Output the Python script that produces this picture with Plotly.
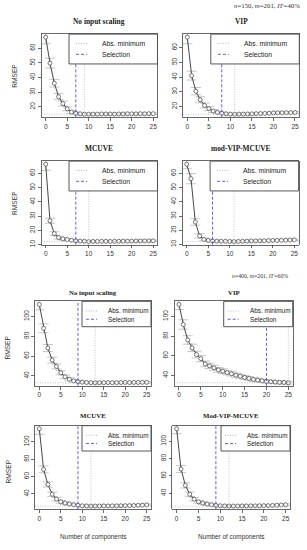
import plotly.graph_objects as go

W, H = 307, 550

# ---------------- data ----------------
components = list(range(26))

titles = ["No input scaling", "VIP", "MCUVE", "mod-VIP-MCUVE",
          "No input scaling", "VIP", "MCUVE", "Mod-VIP-MCUVE"]
subtitle_top = "<i>n</i>=150, <i>m</i>=201, <i>Π'</i>=40%"
subtitle_bottom = "<i>n</i>=400, <i>m</i>=201, <i>Π'</i>=60%"
legend_labels = ["Abs. minimum", "Selection"]
x_label = "Number of components"
y_label = "RMSEP"

rmsep_p1 = [67.5, 49.8, 36.1, 26.9, 22.2, 18.6, 16.4, 15.6, 15.2, 14.9, 15.0, 15.0, 15.0,
            15.1, 15.1, 15.1, 15.0, 15.1, 15.1, 15.2, 15.2, 15.2, 15.3, 15.2, 15.3, 15.3]
err_p1 = [4.5, 3.4, 2.6, 2.1, 1.7, 1.3, 1.0, 0.8, 0.7, 0.6, 0.6, 0.6, 0.6,
          0.6, 0.6, 0.6, 0.6, 0.6, 0.6, 0.6, 0.6, 0.6, 0.6, 0.6, 0.6, 0.6]

rmsep_p2 = [67.1, 41.0, 30.4, 24.6, 20.7, 18.5, 16.9, 16.0, 15.4, 15.0, 14.8, 14.7, 14.8,
            14.8, 14.9, 15.0, 15.1, 15.2, 15.3, 15.4, 15.6, 15.7, 15.7, 15.8, 15.8, 15.9]
err_p2 = [4.5, 3.0, 2.5, 2.0, 1.6, 1.3, 1.0, 0.8, 0.7, 0.6, 0.6, 0.6, 0.6,
          0.6, 0.6, 0.6, 0.6, 0.6, 0.6, 0.6, 0.6, 0.6, 0.6, 0.6, 0.6, 0.6]

rmsep_p3 = [66.5, 26.7, 17.7, 14.9, 14.0, 13.5, 13.0, 12.6, 12.4, 12.3, 12.1, 12.2, 12.2,
            12.3, 12.3, 12.2, 12.3, 12.3, 12.4, 12.4, 12.4, 12.5, 12.5, 12.5, 12.6, 12.6]
err_p3 = [4.3, 1.8, 1.3, 1.0, 0.8, 0.7, 0.6, 0.5, 0.5, 0.5, 0.5, 0.5, 0.5,
          0.5, 0.5, 0.5, 0.5, 0.5, 0.5, 0.5, 0.5, 0.5, 0.5, 0.5, 0.5, 0.5]

rmsep_p4 = [66.5, 56.3, 25.8, 16.0, 13.5, 12.8, 12.4, 12.3, 12.2, 12.2, 12.1, 12.0, 12.1,
            12.2, 12.3, 12.4, 12.4, 12.5, 12.6, 12.7, 12.8, 12.8, 12.9, 13.0, 13.1, 13.2]
err_p4 = [3.2, 3.6, 2.3, 1.5, 1.0, 0.8, 0.6, 0.5, 0.5, 0.5, 0.5, 0.5, 0.5,
          0.5, 0.5, 0.5, 0.5, 0.5, 0.5, 0.5, 0.5, 0.5, 0.5, 0.5, 0.5, 0.5]

rmsep_p5 = [112.2, 88.1, 68.1, 55.9, 49.5, 43.1, 39.0, 36.6, 34.9, 34.2, 33.6, 33.3, 33.1,
            33.0, 33.1, 33.1, 33.2, 33.1, 33.2, 33.2, 33.3, 33.2, 33.3, 33.3, 33.4, 33.4]
err_p5 = [5.4, 4.5, 3.6, 3.0, 2.5, 2.1, 1.8, 1.5, 1.3, 1.2, 1.1, 1.0, 1.0,
          1.0, 1.0, 1.0, 1.0, 1.0, 1.0, 1.0, 1.0, 1.0, 1.0, 1.0, 1.0, 1.0]

rmsep_p6 = [112.2, 91.8, 76.1, 68.0, 61.2, 57.1, 51.7, 49.7, 47.7, 45.6, 44.3, 42.9, 41.6,
            40.2, 39.2, 37.9, 36.9, 35.8, 35.2, 34.5, 33.9, 33.5, 33.2, 32.9, 32.8, 32.5]
err_p6 = [5.2, 4.8, 4.3, 3.8, 3.4, 3.1, 2.9, 2.7, 2.6, 2.5, 2.4, 2.3, 2.2,
          2.1, 2.0, 2.0, 1.9, 1.8, 1.8, 1.7, 1.7, 1.6, 1.6, 1.6, 1.5, 1.5]

rmsep_p7 = [115.1, 68.3, 50.9, 39.6, 34.0, 30.9, 29.4, 28.3, 27.5, 26.8, 26.3, 26.1, 25.9,
            26.0, 26.0, 26.1, 26.1, 26.2, 26.2, 26.3, 26.4, 26.5, 26.6, 26.8, 27.0, 27.3]
err_p7 = [6.4, 4.0, 3.0, 2.5, 2.0, 1.7, 1.4, 1.3, 1.2, 1.1, 1.0, 1.0, 1.0,
          1.0, 1.0, 1.0, 1.0, 1.0, 1.0, 1.0, 1.0, 1.0, 1.0, 1.0, 1.0, 1.0]

rmsep_p8 = [114.3, 67.9, 49.1, 38.9, 33.2, 30.2, 28.7, 27.5, 26.8, 26.0, 25.6, 25.4, 25.2,
            25.3, 25.3, 25.4, 25.4, 25.5, 25.5, 25.6, 25.7, 25.8, 26.0, 26.2, 26.5, 26.8]
err_p8 = [5.7, 4.0, 3.0, 2.5, 2.0, 1.7, 1.4, 1.3, 1.2, 1.1, 1.0, 1.0, 1.0,
          1.0, 1.0, 1.0, 1.0, 1.0, 1.0, 1.0, 1.0, 1.0, 1.0, 1.0, 1.0, 1.0]

selection = [7, 8, 7, 6, 9, 20, 9, 9]
abs_minimum = [9, 11, 10, 11, 13, 25, 12, 12]

rmsep_all = [rmsep_p1, rmsep_p2, rmsep_p3, rmsep_p4, rmsep_p5, rmsep_p6, rmsep_p7, rmsep_p8]
err_all = [err_p1, err_p2, err_p3, err_p4, err_p5, err_p6, err_p7, err_p8]

# ---------------- layout (pixels) ----------------
# (left, right, top, bottom) of each plot box
boxes = [
    (41.4, 157.5, 34.3, 118.0),
    (183.0, 299.3, 34.3, 118.0),
    (41.4, 157.5, 162.0, 246.0),
    (182.4, 298.6, 162.0, 246.0),
    (35.0, 151.0, 303.0, 388.0),
    (174.6, 292.7, 303.0, 388.0),
    (35.0, 151.0, 428.0, 512.0),
    (172.3, 290.0, 428.0, 512.0),
]
title_y = [22, 22, 149, 149, 294, 294, 418, 418]
ydticks = [10, 10, 10, 10, 20, 20, 20, 20]

SANS = "Liberation Sans"
SERIF = "Liberation Serif"
AXC = "#444444"

fig = go.Figure()
shapes = []
annotations = []


def px_x(p):
    return p / W


def px_y(p):
    return 1 - p / H


for i in range(8):
    k = i + 1
    sfx = "" if k == 1 else str(k)
    xa, ya = "x" + sfx, "y" + sfx
    l, r, t, b = boxes[i]
    pw, ph = r - l, b - t
    vals = rmsep_all[i]
    errs = err_all[i]
    top = i < 4

    fig.add_trace(go.Scatter(
        x=components, y=vals, xaxis=xa, yaxis=ya,
        mode="lines+markers", showlegend=False, hoverinfo="skip",
        line=dict(color="#333333", width=0.9),
        marker=dict(symbol="circle", size=4, color="white",
                    line=dict(color="#555555", width=0.8)),
        error_y=dict(type="data", array=errs, color="#b8b8b8",
                     thickness=0.8, width=5),
        cliponaxis=True,
    ))

    lo, hi = min(vals), max(vals)
    pad = (hi - lo) * 0.04
    axis_common = dict(showline=True, mirror=True, linecolor=AXC, linewidth=0.8,
                       ticks="outside", ticklen=3, tickwidth=0.8, tickcolor=AXC,
                       showgrid=False, zeroline=False, fixedrange=True,
                       tickfont=dict(family=SANS, size=6.5, color="#333333"))
    fig.layout[("xaxis" + sfx)] = dict(
        domain=[px_x(l), px_x(r)], anchor=ya, range=[-1, 26],
        tick0=0, dtick=5, **axis_common)
    fig.layout[("yaxis" + sfx)] = dict(
        domain=[px_y(b), px_y(t)], anchor=xa, range=[lo - pad, hi + pad],
        tick0=0, dtick=ydticks[i], tickangle=-90, **axis_common)

    xd, yd = xa + " domain", ya + " domain"
    # abs minimum lines
    shapes.append(dict(type="line", xref=xa, yref=yd, x0=abs_minimum[i], x1=abs_minimum[i],
                       y0=0, y1=1, line=dict(color="#bdbdbd", width=0.9, dash="1px,1.5px")))
    mv = vals[abs_minimum[i]]
    shapes.append(dict(type="line", xref=xd, yref=ya, x0=0, x1=1, y0=mv, y1=mv,
                       line=dict(color="#bdbdbd", width=0.9, dash="1px,1.5px")))
    # selection line
    shapes.append(dict(type="line", xref=xa, yref=yd, x0=selection[i], x1=selection[i],
                       y0=0, y1=1, line=dict(color="#4a4aff", width=0.9, dash="3px,2px")))

    # legend box (top-right)
    if top:
        lw, lh, s0, s1, toff, iy, fs = 88.5, 30.0, 7, 18, 31, [9.3, 20.3], 6.8
    else:
        lw, lh, s0, s1, toff, iy, fs = 69.0, 25.5, 4, 15, 24, [9.7, 18.0], 6.4
    lx0 = 1 - lw / pw
    shapes.append(dict(type="rect", xref=xd, yref=yd, x0=lx0, x1=1, y0=1 - lh / ph, y1=1,
                       fillcolor="white", line=dict(color=AXC, width=0.9)))
    styles = [dict(color="#b0b0b0", width=0.9, dash="1px,1.5px"),
              dict(color="#4a4aff", width=0.9, dash="3px,2px")]
    for j, lab in enumerate(legend_labels):
        yy = 1 - iy[j] / ph
        shapes.append(dict(type="line", xref=xd, yref=yd,
                           x0=lx0 + s0 / pw, x1=lx0 + s1 / pw, y0=yy, y1=yy, line=styles[j]))
        annotations.append(dict(text=lab, xref=xd, yref=yd, x=lx0 + toff / pw, y=yy,
                                xanchor="left", yanchor="middle", showarrow=False,
                                font=dict(family=SANS, size=fs, color="#222222")))

    # panel title
    annotations.append(dict(text="<b>" + titles[i] + "</b>", xref="paper", yref="paper",
                            x=px_x((l + r) / 2), y=px_y(title_y[i]), xanchor="center",
                            yanchor="middle", showarrow=False,
                            font=dict(family=SERIF, size=7.4 if top else 6.8, color="#222222")))

    # y label on left panels
    if i % 2 == 0:
        annotations.append(dict(text=y_label, xref="paper", yref="paper",
                                x=px_x(15 if top else 8), y=px_y((t + b) / 2 + (0 if top else 4)),
                                xanchor="center", yanchor="middle", textangle=-90,
                                showarrow=False,
                                font=dict(family=SANS, size=6.6, color="#333333")))
    # x label on bottom row
    if i >= 6:
        annotations.append(dict(text=x_label, xref="paper", yref="paper",
                                x=px_x((l + r) / 2), y=px_y(540), xanchor="center",
                                yanchor="middle", showarrow=False,
                                font=dict(family=SANS, size=6.4, color="#333333")))

annotations.append(dict(text=subtitle_top, xref="paper", yref="paper", x=px_x(302),
                        y=px_y(6), xanchor="right", yanchor="middle", showarrow=False,
                        font=dict(family=SERIF, size=6.8, color="#333333")))
annotations.append(dict(text=subtitle_bottom, xref="paper", yref="paper", x=px_x(290),
                        y=px_y(278), xanchor="right", yanchor="middle", showarrow=False,
                        font=dict(family=SERIF, size=5.8, color="#333333")))

fig.update_layout(width=W, height=H, margin=dict(l=0, r=0, t=0, b=0),
                  paper_bgcolor="white", plot_bgcolor="white", hovermode=False,
                  shapes=shapes, annotations=annotations, showlegend=False)

fig.write_html("out.html", config={"displayModeBar": False, "staticPlot": True},
               post_script="document.body.style.margin='0';document.body.style.padding='0';"
                           "document.documentElement.style.overflow='hidden';")
